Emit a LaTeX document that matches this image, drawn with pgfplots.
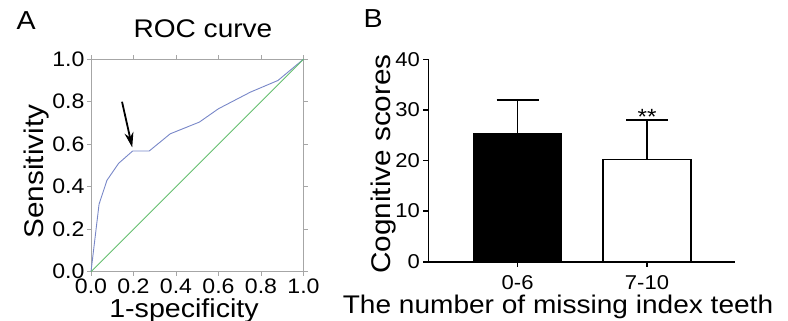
\documentclass[border=0pt]{standalone}
\usepackage{fontspec}
\setmainfont[FakeStretch=1.1]{Liberation Sans}
\usepackage{pgfplots}
\pgfplotsset{compat=1.18}
\usetikzlibrary{arrows.meta}
\newcommand\fs[1]{\fontsize{#1bp}{#1bp}\selectfont}
\definecolor{roccol}{RGB}{120,135,200}
\definecolor{diagcol}{RGB}{100,190,110}
\begin{document}
\begin{tikzpicture}
% Panel A
\begin{axis}[at={(91bp,49.3bp)}, anchor=south west,
  width=212.5bp, height=212.5bp, scale only axis,
  xmin=0, xmax=1, ymin=0, ymax=1,
  xtick={0,0.2,0.4,0.6,0.8,1}, ytick={0,0.2,0.4,0.6,0.8,1},
  /pgf/number format/assume math mode=true,
  /pgf/number format/.cd, fixed, fixed zerofill, precision=1, /pgfplots/.cd,
  axis line style={gray!70, line width=0.8bp},
  tick style={gray!70, line width=0.8bp},
  tick align=outside, major tick length=4bp,
  ticklabel style={font=\fs{21}, black},
  xticklabel style={yshift=0bp},
  yticklabel style={xshift=1bp},
  clip=false]
\addplot[roccol, line width=0.9bp] coordinates {
 (0,0) (0.038,0.318) (0.075,0.43) (0.13,0.51) (0.196,0.568) (0.274,0.568)
 (0.373,0.649) (0.51,0.704) (0.60,0.767) (0.75,0.845) (0.88,0.90) (1,1)};
\addplot[diagcol, line width=0.9bp] coordinates {(0,0) (1,1)};
\draw[-{Stealth[length=15bp,width=9bp]}, line width=1.8bp] (axis cs:0.146,0.80) -- (axis cs:0.194,0.585);
\end{axis}
\node[anchor=base west, font=\fs{26}] at (13bp,291bp) {A};
\node[anchor=base, font=\fs{25.5}] at (203bp,283bp) {ROC curve};
\node[anchor=base, rotate=90, font=\fs{27}] at (43bp,149.5bp) {Sensitivity};
\node[anchor=base, font=\fs{26}] at (184bp,4bp) {1-specificity};
% Panel B
\begin{axis}[at={(428.3bp,59.3bp)}, anchor=south west,
  width=306.7bp, height=202.4bp, scale only axis,
  axis lines*=left,
  axis line style={line width=1.6bp, black},
  tick style={line width=1.6bp, black},
  tick align=outside, major tick length=5bp,
  xmin=-0.69, xmax=1.68, ymin=0, ymax=40,
  xtick={0,1}, xticklabels={0-6,7-10},
  ytick={0,10,20,30,40},
  /pgf/number format/assume math mode=true,
  ticklabel style={font=\fs{20}},
  xticklabel style={yshift=-5bp},
  ybar, bar width=88bp, bar shift=0pt,
  clip=false]
\addplot[fill=black, draw=black, line width=1.8bp,
  error bars/.cd, y dir=plus, y explicit,
  error bar style={line width=1.6bp, black},
  error mark options={rotate=90, mark size=21bp, line width=1.6bp, black}]
  coordinates {(0,25.2) +- (0,6.8)};
\addplot[fill=white, draw=black, line width=1.8bp,
  error bars/.cd, y dir=plus, y explicit,
  error bar style={line width=1.6bp, black},
  error mark options={rotate=90, mark size=21bp, line width=1.6bp, black}]
  coordinates {(1,20.2) +- (0,7.8)};
\node[anchor=base, font=\fs{22}] at (axis cs:1,27.2) {**};
\end{axis}
\node[anchor=base west, font=\fs{26}] at (360bp,293bp) {B};
\node[anchor=base, rotate=90, font=\fs{27}] at (390bp,157bp) {Cognitive scores};
\node[anchor=base, font=\fs{25.5}] at (558bp,8bp) {The number of missing index teeth};
\pgfresetboundingbox
\useasboundingbox (0,0) rectangle (788bp,321bp);
\end{tikzpicture}
\end{document}
